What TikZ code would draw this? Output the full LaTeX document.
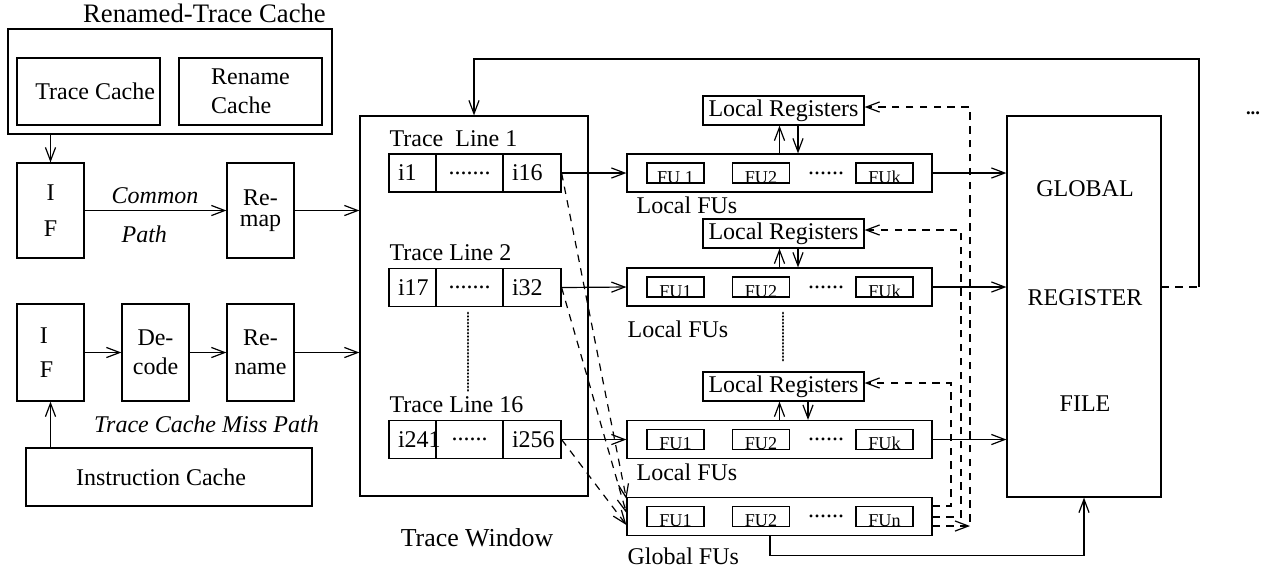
\documentclass[tikz,border=0pt]{standalone}
\usepackage{fontspec}
\setmainfont{Liberation Serif}
\usetikzlibrary{arrows.meta, positioning, calc}
\newcommand{\upx}{0.375pt}

\begin{document}
\begin{tikzpicture}[
  x=\upx, y=-\upx, line width=0.45pt,
  >={Straight Barb[length=5pt, width=3.8pt]},
  blk/.style 2 args={draw, minimum width=#1*\upx, minimum height=#2*\upx, inner sep=1pt, align=center},
  cellL/.style={draw, text width=#1, minimum height=38*\upx, inner xsep=3.375pt, inner ysep=0pt, align=left},
  cellM/.style={draw, minimum width=67*\upx, minimum height=38*\upx, inner sep=0pt},
  fubox/.style={draw, minimum width=57*\upx, inner xsep=0pt, inner ysep=0pt, text height=7.5pt, text depth=0pt, font=\fontsize{6.8}{8}\selectfont},
  ret/.style={dash pattern=on 2.8pt off 2.4pt},
  dotln/.style={line width=1.1pt, dash pattern=on 0.01pt off 1.25pt, line cap=round}
]
  \fontsize{9}{10.8}\selectfont
  \useasboundingbox (0,0) rectangle (1268,571);

  % renamed-trace cache
  \node[font=\fontsize{10}{12}\selectfont] (rtctitle) at (204.5,13) {Renamed-Trace Cache};
  \node[blk={324}{105}] (rtc) at (170,81.5) {};
  \node[blk={143}{67}] (tc) at (88.5,91.5) {\hspace*{5pt}Trace Cache};
  \node[blk={143}{67}, align=left] (rnc) at (250.5,91.5) {Rename\\Cache};

  % trace window and global register file
  \node[blk={228}{380}] (tw) at (474,306) {};
  \node[font=\fontsize{9.7}{11.6}\selectfont] (twlbl) at (477,538) {Trace Window};
  \node[blk={154}{381}] (grf) at (1084,306.5) {};
  \node[align=center] (grftxt) at (1085,296) {GLOBAL\\[30pt]REGISTER\\[29pt]FILE};
  \node[font=\fontsize{7}{8}\selectfont\bfseries] (more) at (1253,113) {...};

  % common path
  \node[blk={67}{95}] (if1) at (50.5,210.5) {I\\[2.7pt]F};
  \node[blk={67}{95}] (remap) at (260.5,210.5) {Re-\\[-3pt]map};
  \node[font=\itshape] (cp1) at (155,196) {Common};
  \node[font=\itshape, anchor=west] (cp2) at (113,234) {Path};
  \draw[->] (rtc.south -| if1.north) -- (if1.north);
  \draw[->] (if1) -- (remap);
  \draw[->] (remap) -- (remap -| tw.west);

  % trace cache miss path
  \node[blk={67}{97}, text width=8pt, align=left] (if2) at (50.5,352.5) {I\\[2pt]F};
  \node[blk={67}{97}] (dec) at (155.5,352.5) {De-\\code};
  \node[blk={67}{97}] (ren) at (260.5,352.5) {Re-\\name};
  \node[font=\itshape] (miss) at (206.5,424) {Trace Cache Miss Path};
  \node[blk={286}{58}] (ic) at (169,477) {Instruction Cache\hspace*{6pt}};
  \draw[->] (ic.north -| if2.south) -- (if2.south);
  \draw[->] (if2) -- (dec);
  \draw[->] (dec) -- (ren);
  \draw[->] (ren) -- (ren -| tw.west);

  % trace lines
  \foreach \r/\yc/\ly/\lname/\fa/\fc/\dts in {
      1/173/139/{Trace\ \ Line 1}/i1/i16/{.......},
      2/287.5/253/{Trace Line 2}/i17/i32/{.......},
      3/439.5/405/{Trace Line 16}/i241/i256/{......}}{
    \node[anchor=west, inner sep=0pt] (tl\r) at (389,\ly) {\lname};
    \node[cellL=10.875pt] (tr\r-a) at (412.5,\yc) {\fa};
    \node[cellM] (tr\r-b) at (469.5,\yc) {\dts};
    \node[cellL=15pt] (tr\r-c) at (532,\yc) {\fc};
  }
  \draw[dotln] (468,313) -- (468,392);

  % functional units
  \foreach \r/\yc/\fa/\fz in {1/173/{FU 1}/FUk, 2/287/FU1/FUk, 3/439.5/FU1/FUk, 4/516.5/FU1/FUn}{
    \node[blk={305}{38}] (fu\r) at (779.5,\yc) {};
    \node[fubox] (fu\r-a) at (675.5,\yc) {\fa};
    \node[fubox] (fu\r-b) at (761,\yc) {FU2};
    \node (fu\r-d) at (826,\yc) {......};
    \node[fubox] (fu\r-c) at (884.5,\yc) {\fz};
  }
  \node[anchor=west, inner sep=0pt] (lf1) at (636,205) {Local FUs};
  \node[anchor=west, inner sep=0pt] (lf2) at (627,329) {Local FUs};
  \node[anchor=west, inner sep=0pt] (lf3) at (636,472) {Local FUs};
  \node[anchor=west, inner sep=0pt] (gf) at (627,556) {Global FUs};
  \draw[dotln] (783,313) -- (783,363);

  % local registers
  \foreach \r/\yc/\dx in {1/110.5/18.5, 2/233.5/18.5, 3/386.5/28.5}{
    \node[blk={161}{29}] (lr\r) at (783.5,\yc) {Local Registers};
    \draw[->] (fu\r.north) -- (fu\r.north |- lr\r.south);
    \draw[->] ($(fu\r.north |- lr\r.south)+(\dx,0)$) -- ($(fu\r.north)+(\dx,0)$);
    \draw[->] (tr\r-c.east) -- (fu\r.west);
    \draw[->] (fu\r.east) -- (fu\r.east -| grf.west);
  }

  % dashed paths to the global FUs and back to the local registers
  \foreach \r/\xv/\ya/\yb/\dy in {1/970/107/526/-17.5, 2/961/230/517/-3.5, 3/951/383/506/8.5}{
    \draw[ret,->] ($(fu4.east)+(0,\yb-516.5)$) -- (\xv,\yb) -- (\xv,\ya) -- ($(lr\r.east)+(0,-3.5)$);
    \draw[ret,->] (tr\r-c.east) -- ($(fu4.west)+(0,\dy)$);
  }
  \draw[ret,->] ($(fu4.east)+(0,9.5)$) -- (970,526);

  % feedback paths
  \draw[ret] ($(grf.east)+(0,-19.5)$) -- (1199,287);
  \draw[->] (1199,287) -- (1199,59) -| (tw.north);
  \draw[->] ($(fu4.south)+(-9.5,0)$) -- ++(0,19) -| (grf.south);
\end{tikzpicture}
\end{document}
